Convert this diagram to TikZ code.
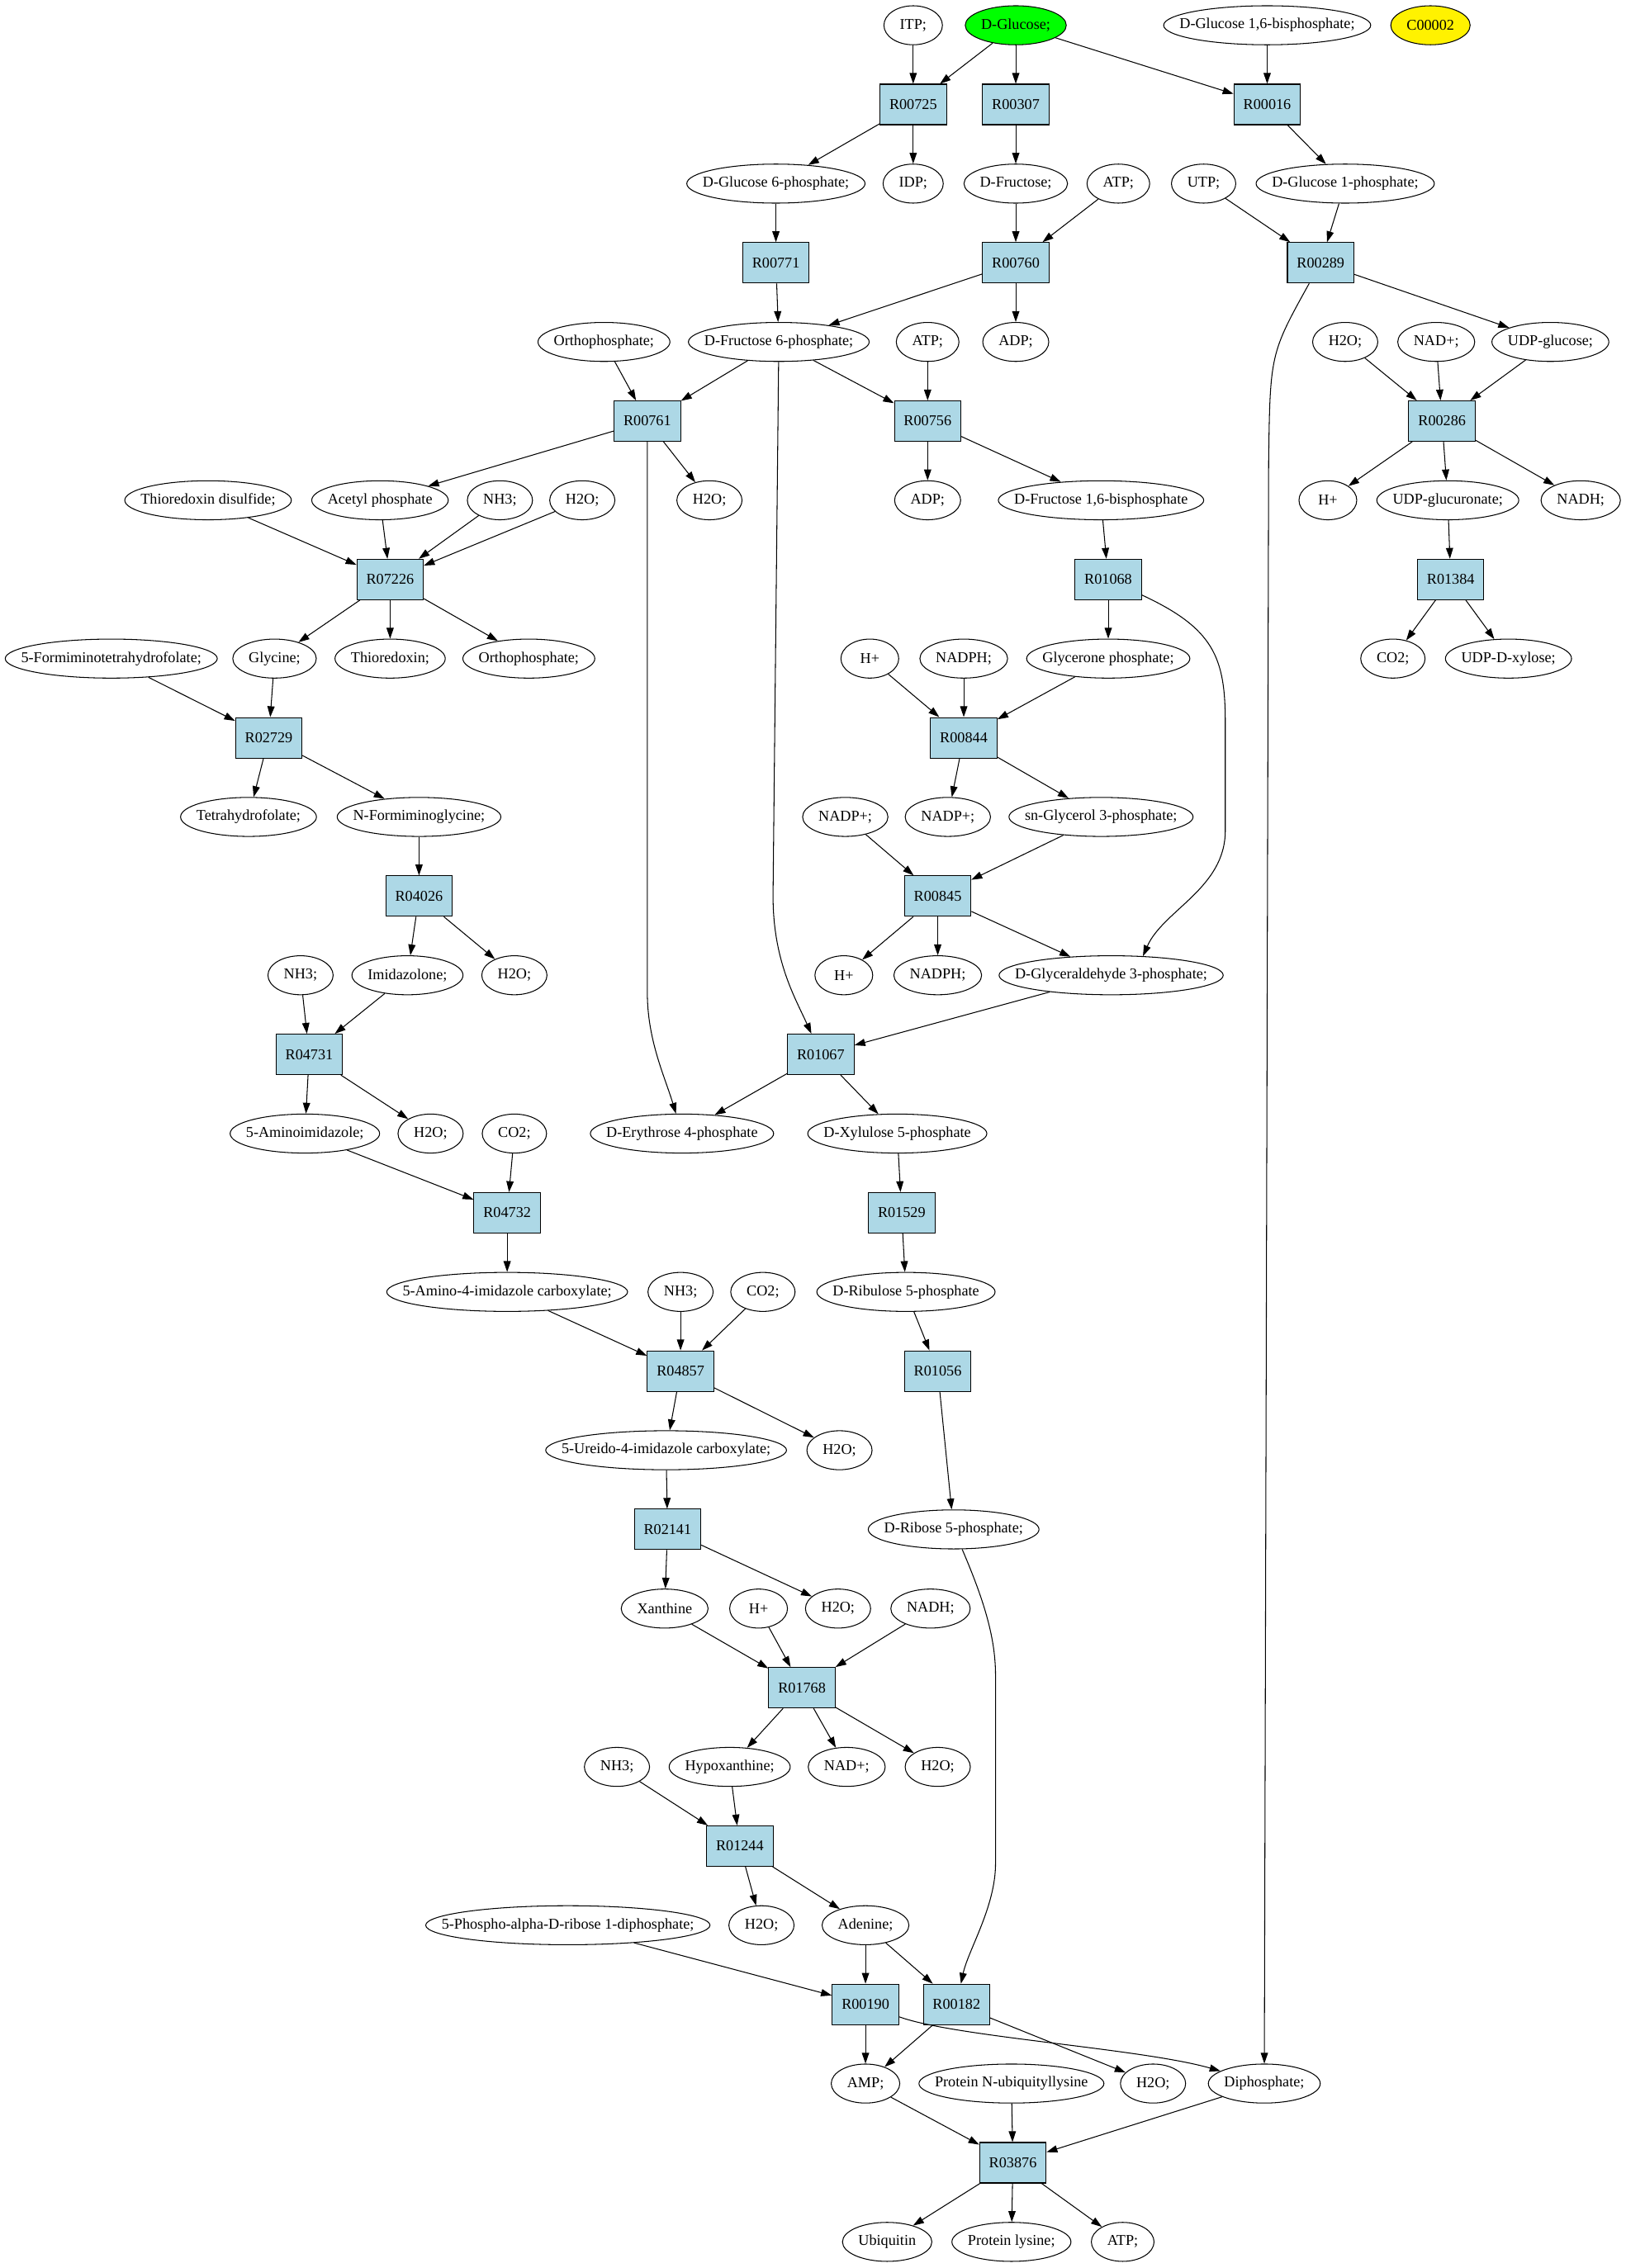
\documentclass[tikz,border=0pt]{standalone}
\usepackage{fontspec}
\setmainfont{Liberation Serif}
\usepackage{xcolor}
\usetikzlibrary{arrows.meta,shapes.geometric}
\definecolor{lightblue}{HTML}{ADD8E6}
% metabolite ellipse as wide as its label plus a fixed margin
\newcommand{\metab}[4][]{%
  \node[met,#1] (#2) at (#3) {\makebox[\dimexpr0.7071\width+15.56pt\relax]{#4}};}

\begin{document}
\fontsize{10.4pt}{12pt}\selectfont
\begin{tikzpicture}[%
    x=1pt,y=-1pt,->,>={Triangle[length=7.5pt,width=5pt]},line width=0.6pt,
    met/.style={%
      ellipse,draw,inner sep=0pt,minimum width=40pt,minimum height=27pt},
    rxn/.style={%
      rectangle,draw,fill=lightblue,inner sep=0pt,minimum width=46pt,minimum height=28pt}
  ]
    \useasboundingbox (0,0) rectangle (1125,1570);
    % rank 0 - 3
    \metab{itp}{632,17.5}{ITP;}
    \metab[fill=green]{glc}{703,17.5}{D-Glucose;}
    \metab{glc16bp}{877,17.5}{D-Glucose 1,6-bisphosphate;}
    \metab[fill=yellow]{c00002}{990,17.5}{C00002}
    \node[rxn] (r00725) at (632,72.3) {R00725};
    \node[rxn] (r00307) at (703,72.3) {R00307};
    \node[rxn] (r00016) at (877,72.3) {R00016};
    \metab{glc6p}{537,127.1}{D-Glucose 6-phosphate;}
    \metab{idp}{632,127.1}{IDP;}
    \metab{fru}{703,127.1}{D-Fructose;}
    \metab{atpa}{774,127.1}{ATP;}
    \metab{utp}{833,127.1}{UTP;}
    \metab{glc1p}{931,127.1}{D-Glucose 1-phosphate;}
    \node[rxn] (r00771) at (537,181.9) {R00771};
    \node[rxn] (r00760) at (703,181.9) {R00760};
    \node[rxn] (r00289) at (914,181.9) {R00289};
    % rank 4 - 7
    \metab{pia}{418,236.7}{Orthophosphate;}
    \metab{fru6p}{539,236.7}{D-Fructose 6-phosphate;}
    \metab{atpb}{642,236.7}{ATP;}
    \metab{adpa}{703,236.7}{ADP;}
    \metab{h2oa}{931,236.7}{H2O;}
    \metab{nad}{994,236.7}{NAD+;}
    \metab{udpglc}{1073,236.7}{UDP-glucose;}
    \node[rxn] (r00761) at (448,291.5) {R00761};
    \node[rxn] (r00756) at (642,291.5) {R00756};
    \node[rxn] (r00286) at (998,291.5) {R00286};
    \metab{trxss}{144,346.3}{Thioredoxin disulfide;}
    \metab{acp}{263,346.3}{Acetyl phosphate}
    \metab{nh3a}{346,346.3}{NH3;}
    \metab{h2ob}{403,346.3}{H2O;}
    \metab{h2oc}{491,346.3}{H2O;}
    \metab{adpb}{642,346.3}{ADP;}
    \metab{fbp}{762,346.3}{D-Fructose 1,6-bisphosphate}
    \metab{hpa}{919,346.3}{H+}
    \metab{udpgca}{1002,346.3}{UDP-glucuronate;}
    \metab{nadha}{1094,346.3}{NADH;}
    \node[rxn] (r07226) at (270,401.1) {R07226};
    \node[rxn] (r01068) at (767,401.1) {R01068};
    \node[rxn] (r01384) at (1004,401.1) {R01384};
    % rank 8 - 11
    \metab{fthf}{77,455.9}{5-Formiminotetrahydrofolate;}
    \metab{gly}{190,455.9}{Glycine;}
    \metab{trx}{270,455.9}{Thioredoxin;}
    \metab{pib}{366,455.9}{Orthophosphate;}
    \metab{hpb}{602,455.9}{H+}
    \metab{nadpha}{667,455.9}{NADPH;}
    \metab{dhap}{767,455.9}{Glycerone phosphate;}
    \metab{co2a}{964,455.9}{CO2;}
    \metab{udpxyl}{1044,455.9}{UDP-D-xylose;}
    \node[rxn] (r02729) at (186,510.7) {R02729};
    \node[rxn] (r00844) at (667,510.7) {R00844};
    \metab{thf}{172,565.5}{Tetrahydrofolate;}
    \metab{figly}{290,565.5}{N-Formiminoglycine;}
    \metab{nadpa}{585,565.5}{NADP+;}
    \metab{nadpb}{656,565.5}{NADP+;}
    \metab{g3p}{762,565.5}{sn-Glycerol 3-phosphate;}
    \node[rxn] (r04026) at (290,620.3) {R04026};
    \node[rxn] (r00845) at (649,620.3) {R00845};
    % rank 12 - 15
    \metab{nh3b}{208,675.1}{NH3;}
    \metab{imid}{282,675.1}{Imidazolone;}
    \metab{h2od}{356,675.1}{H2O;}
    \metab{hpc}{584,675.1}{H+}
    \metab{nadphb}{649,675.1}{NADPH;}
    \metab{gap}{769,675.1}{D-Glyceraldehyde 3-phosphate;}
    \node[rxn] (r04731) at (214,729.9) {R04731};
    \node[rxn] (r01067) at (568,729.9) {R01067};
    \metab{air}{211,784.7}{5-Aminoimidazole;}
    \metab{h2oe}{298,784.7}{H2O;}
    \metab{co2b}{356,784.7}{CO2;}
    \metab{e4p}{472,784.7}{D-Erythrose 4-phosphate}
    \metab{xu5p}{621,784.7}{D-Xylulose 5-phosphate}
    \node[rxn] (r04732) at (351,839.5) {R04732};
    \node[rxn] (r01529) at (624,839.5) {R01529};
    % rank 16 - 21
    \metab{aica}{351,894.3}{5-Amino-4-imidazole carboxylate;}
    \metab{nh3c}{471,894.3}{NH3;}
    \metab{co2c}{528,894.3}{CO2;}
    \metab{ru5p}{627,894.3}{D-Ribulose 5-phosphate}
    \node[rxn] (r04857) at (471,949.1) {R04857};
    \node[rxn] (r01056) at (649,949.1) {R01056};
    \metab{uica}{461,1003.9}{5-Ureido-4-imidazole carboxylate;}
    \metab{h2of}{581,1003.9}{H2O;}
    \node[rxn] (r02141) at (462,1058.7) {R02141};
    \metab{r5p}{660,1058.7}{D-Ribose 5-phosphate;}
    \metab{xan}{460,1113.5}{Xanthine}
    \metab{hpd}{525,1113.5}{H+}
    \metab{h2og}{580,1113.5}{H2O;}
    \metab{nadhb}{644,1113.5}{NADH;}
    \node[rxn] (r01768) at (555,1168.3) {R01768};
    % rank 22 - 28
    \metab{nh3d}{427,1223.1}{NH3;}
    \metab{hxan}{505,1223.1}{Hypoxanthine;}
    \metab{nadb}{586,1223.1}{NAD+;}
    \metab{h2oh}{649,1223.1}{H2O;}
    \node[rxn] (r01244) at (512,1277.9) {R01244};
    \metab{prpp}{393,1332.7}{5-Phospho-alpha-D-ribose 1-diphosphate;}
    \metab{h2oi}{527,1332.7}{H2O;}
    \metab{ade}{599,1332.7}{Adenine;}
    \node[rxn] (r00190) at (599,1387.5) {R00190};
    \node[rxn] (r00182) at (662,1387.5) {R00182};
    \metab{amp}{599,1442.3}{AMP;}
    \metab{pnub}{700,1442.3}{Protein N-ubiquityllysine}
    \metab{h2oj}{798,1442.3}{H2O;}
    \metab{ppi}{875,1442.3}{Diphosphate;}
    \node[rxn] (r03876) at (701,1497.1) {R03876};
    \metab{ubq}{614,1551.9}{Ubiquitin}
    \metab{plys}{700,1551.9}{Protein lysine;}
    \metab{atpc}{777,1551.9}{ATP;}

    \path (itp) edge (r00725)
          (glc) edge (r00725)
          (glc) edge (r00307)
          (glc) edge (r00016)
          (glc16bp) edge (r00016)
          (r00725) edge (glc6p)
          (r00725) edge (idp)
          (r00307) edge (fru)
          (r00016) edge (glc1p)
          (glc6p) edge (r00771)
          (fru) edge (r00760)
          (atpa) edge (r00760)
          (utp) edge (r00289)
          (glc1p) edge (r00289)
          (r00771) edge (fru6p)
          (r00760) edge (fru6p)
          (r00760) edge (adpa)
          (r00289) edge (udpglc)
          (pia) edge (r00761)
          (fru6p) edge (r00761)
          (fru6p) edge (r00756)
          (atpb) edge (r00756)
          (h2oa) edge (r00286)
          (nad) edge (r00286)
          (udpglc) edge (r00286)
          (r00761) edge (acp)
          (r00761) edge (h2oc)
          (r00756) edge (adpb)
          (r00756) edge (fbp)
          (r00286) edge (hpa)
          (r00286) edge (udpgca)
          (r00286) edge (nadha)
          (trxss) edge (r07226)
          (acp) edge (r07226)
          (nh3a) edge (r07226)
          (h2ob) edge (r07226)
          (fbp) edge (r01068)
          (udpgca) edge (r01384)
          (r07226) edge (gly)
          (r07226) edge (trx)
          (r07226) edge (pib)
          (r01068) edge (dhap)
          (r01384) edge (co2a)
          (r01384) edge (udpxyl)
          ;
    \path (fthf) edge (r02729)
          (gly) edge (r02729)
          (hpb) edge (r00844)
          (nadpha) edge (r00844)
          (dhap) edge (r00844)
          (r02729) edge (thf)
          (r02729) edge (figly)
          (r00844) edge (nadpb)
          (r00844) edge (g3p)
          (figly) edge (r04026)
          (nadpa) edge (r00845)
          (g3p) edge (r00845)
          (r04026) edge (imid)
          (r04026) edge (h2od)
          (r00845) edge (hpc)
          (r00845) edge (nadphb)
          (r00845) edge (gap)
          (nh3b) edge (r04731)
          (imid) edge (r04731)
          (gap) edge (r01067)
          (r04731) edge (air)
          (r04731) edge (h2oe)
          (r01067) edge (e4p)
          (r01067) edge (xu5p)
          (air) edge (r04732)
          (co2b) edge (r04732)
          (xu5p) edge (r01529)
          (r04732) edge (aica)
          (r01529) edge (ru5p)
          (aica) edge (r04857)
          (nh3c) edge (r04857)
          (co2c) edge (r04857)
          (ru5p) edge (r01056)
          (r04857) edge (uica)
          (r04857) edge (h2of)
          (r01056) edge (r5p)
          (uica) edge (r02141)
          ;
    \path (r02141) edge (xan)
          (r02141) edge (h2og)
          (xan) edge (r01768)
          (hpd) edge (r01768)
          (nadhb) edge (r01768)
          (r01768) edge (hxan)
          (r01768) edge (nadb)
          (r01768) edge (h2oh)
          (nh3d) edge (r01244)
          (hxan) edge (r01244)
          (r01244) edge (h2oi)
          (r01244) edge (ade)
          (prpp) edge (r00190)
          (ade) edge (r00190)
          (ade) edge (r00182)
          (r00190) edge (amp)
          (r00182) edge (amp)
          (r00182) edge (h2oj)
          (amp) edge (r03876)
          (pnub) edge (r03876)
          (ppi) edge (r03876)
          (r03876) edge (ubq)
          (r03876) edge (plys)
          (r03876) edge (atpc)
          ;
    % long bent edges
    \draw (fru6p) -- (535,620) .. controls (535,665) and (550,690) .. (r01067);
    \draw (r00761) -- (448,687) .. controls (448,720) and (460,745) .. (e4p);
    \draw (r01068) .. controls (840,435) and (848,455) .. (848,500) -- (848,575)
          .. controls (848,615) and (805,630) .. (gap.31);
    \draw (r00289) .. controls (879,245) .. (878,320) -- (ppi);
    \draw (r5p) .. controls (682,1110) and (689,1135) .. (689,1160) -- (689,1290)
          .. controls (689,1320) and (670,1350) .. (r00182);
    \draw (r00190) .. controls (660,1410) and (790,1418) .. (ppi);
\end{tikzpicture}
\end{document}
